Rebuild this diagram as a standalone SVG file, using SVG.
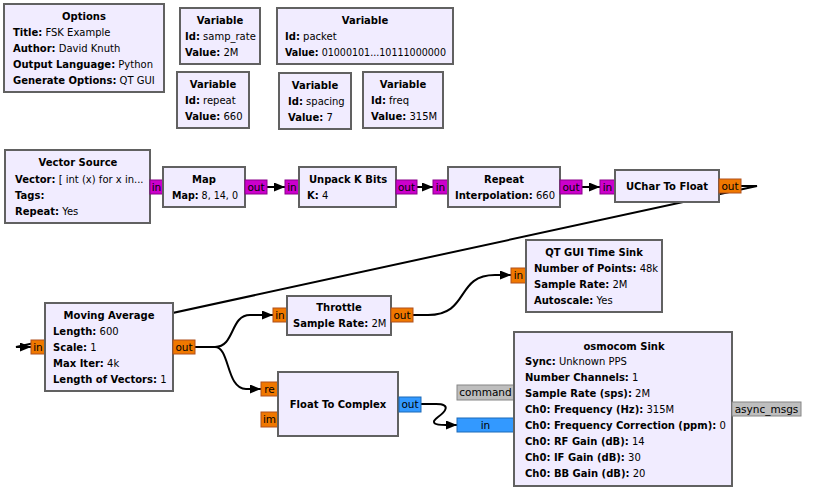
<svg xmlns="http://www.w3.org/2000/svg" width="838" height="500" viewBox="0 0 838 500">
<style>
.blk{fill:#F1ECFF;stroke:#616161;stroke-width:2}
text{font-family:"DejaVu Sans","Liberation Sans",sans-serif;font-size:10px;fill:#000}
.t{font-weight:bold;text-anchor:middle}
.b{font-weight:bold}
.pl{font-size:10.5px;text-anchor:middle}
.pb{fill:#CC00CC;stroke:#8A008A;stroke-width:1}
.pf{fill:#F07800;stroke:#B0501C;stroke-width:1}
.pc{fill:#3399FF;stroke:#1C6AB8;stroke-width:1}
.pm{fill:#BEBEBE;stroke:#868686;stroke-width:1}
.c{fill:none;stroke:#000;stroke-width:2;marker-end:url(#ah)}
</style>
<defs>
<marker id="ah" markerUnits="userSpaceOnUse" markerWidth="12" markerHeight="10" refX="11" refY="4.5" orient="auto">
<path d="M0,0 L11,4.5 L0,9 Z" fill="#000"/>
</marker>
</defs>
<rect width="838" height="500" fill="#fff"/>
<g id="connectors">
<path class="c" d="M267,187 L285,187"/>
<path class="c" d="M417,187 L433,187"/>
<path class="c" d="M582,187 L600,187"/>
<path class="c" d="M741,186 L757,186 L16,347 L31,347"/>
<path class="c" d="M195,347 L215,347 C235,347 230,315 250,315 L273,315"/>
<path class="c" d="M195,347 L215,347 C230,347 226,389 246,389 L261,389"/>
<path class="c" d="M413,315 L428,315 C470,315 455,275 495,275 L511,275"/>
<path class="c" d="M421,404 L436,404 C452,404 445,412 438,417 C430,423 434,425 446,425 L457,425"/>
</g>
<g id="options">
<rect class="blk" x="4" y="4" width="160" height="88"/>
<text class="t" x="84" y="20">Options</text>
<text x="13" y="36"><tspan class="b">Title:</tspan> FSK Example</text>
<text x="13" y="52"><tspan class="b">Author:</tspan> David Knuth</text>
<text x="13" y="68"><tspan class="b">Output Language:</tspan> Python</text>
<text x="13" y="84"><tspan class="b">Generate Options:</tspan> QT GUI</text>
</g>
<g id="var_samp_rate">
<rect class="blk" x="180" y="8" width="80" height="56"/>
<text class="t" x="220" y="24">Variable</text>
<text x="185" y="40"><tspan class="b">Id:</tspan> samp_rate</text>
<text x="185" y="56"><tspan class="b">Value:</tspan> 2M</text>
</g>
<g id="var_packet">
<rect class="blk" x="277" y="8" width="176" height="56"/>
<text class="t" x="365" y="24">Variable</text>
<text x="285" y="40"><tspan class="b">Id:</tspan> packet</text>
<text x="285" y="56" textLength="161" lengthAdjust="spacingAndGlyphs"><tspan class="b">Value:</tspan> 01000101...10111000000</text>
</g>
<g id="var_repeat">
<rect class="blk" x="177" y="72" width="72" height="56"/>
<text class="t" x="213" y="88">Variable</text>
<text x="185" y="104"><tspan class="b">Id:</tspan> repeat</text>
<text x="185" y="120"><tspan class="b">Value:</tspan> 660</text>
</g>
<g id="var_spacing">
<rect class="blk" x="279" y="73" width="72" height="56"/>
<text class="t" x="315" y="89">Variable</text>
<text x="288" y="105"><tspan class="b">Id:</tspan> spacing</text>
<text x="288" y="121"><tspan class="b">Value:</tspan> 7</text>
</g>
<g id="var_freq">
<rect class="blk" x="363" y="72" width="80" height="56"/>
<text class="t" x="403" y="88">Variable</text>
<text x="371" y="104"><tspan class="b">Id:</tspan> freq</text>
<text x="371" y="120"><tspan class="b">Value:</tspan> 315M</text>
</g>
<g id="vector_source">
<rect class="blk" x="5" y="150" width="145" height="73"/>
<text class="t" x="78" y="166">Vector Source</text>
<text x="15" y="183"><tspan class="b">Vector:</tspan> [ int (x) for x in...</text>
<text x="15" y="199"><tspan class="b">Tags:</tspan></text>
<text x="15" y="215"><tspan class="b">Repeat:</tspan> Yes</text>
</g>
<g id="map">
<rect class="pb" x="150" y="180" width="13" height="14"/>
<text class="pl" x="156.5" y="191">in</text>
<rect class="blk" x="163" y="167" width="82" height="40"/>
<rect class="pb" x="245" y="180" width="22" height="14"/>
<text class="pl" x="256" y="191">out</text>
<text class="t" x="204" y="183">Map</text>
<text x="172" y="199" textLength="66" lengthAdjust="spacingAndGlyphs"><tspan class="b">Map:</tspan> 8, 14, 0</text>
</g>
<g id="unpack_k_bits">
<rect class="pb" x="285" y="180" width="14" height="14"/>
<text class="pl" x="292" y="191">in</text>
<rect class="blk" x="299" y="167" width="97" height="40"/>
<rect class="pb" x="396" y="180" width="21" height="14"/>
<text class="pl" x="406.5" y="191">out</text>
<text class="t" x="348" y="183">Unpack K Bits</text>
<text x="307" y="199"><tspan class="b">K:</tspan> 4</text>
</g>
<g id="repeat">
<rect class="pb" x="433" y="180" width="15" height="14"/>
<text class="pl" x="440.5" y="191">in</text>
<rect class="blk" x="448" y="167" width="112" height="40"/>
<rect class="pb" x="560" y="180" width="22" height="14"/>
<text class="pl" x="571" y="191">out</text>
<text class="t" x="504" y="183">Repeat</text>
<text x="455" y="199"><tspan class="b">Interpolation:</tspan> 660</text>
</g>
<g id="uchar_to_float">
<rect class="pb" x="600" y="180" width="15" height="14"/>
<text class="pl" x="607.5" y="191">in</text>
<rect class="blk" x="615" y="170" width="104" height="32"/>
<rect class="pf" x="719" y="179" width="22" height="14"/>
<text class="pl" x="730" y="190">out</text>
<text class="t" x="667" y="190">UChar To Float</text>
</g>
<g id="qt_gui_time_sink">
<rect class="pf" x="511" y="268" width="15" height="15"/>
<text class="pl" x="518.5" y="279">in</text>
<rect class="blk" x="526" y="240" width="136" height="72"/>
<text class="t" x="594" y="256">QT GUI Time Sink</text>
<text x="534" y="272"><tspan class="b">Number of Points:</tspan> 48k</text>
<text x="534" y="288"><tspan class="b">Sample Rate:</tspan> 2M</text>
<text x="534" y="304"><tspan class="b">Autoscale:</tspan> Yes</text>
</g>
<g id="moving_average">
<rect class="pf" x="31" y="340" width="14" height="14"/>
<text class="pl" x="38" y="351">in</text>
<rect class="blk" x="45" y="303" width="128" height="88"/>
<rect class="pf" x="173" y="340" width="22" height="14"/>
<text class="pl" x="184" y="351">out</text>
<text class="t" x="109" y="319">Moving Average</text>
<text x="53" y="335"><tspan class="b">Length:</tspan> 600</text>
<text x="53" y="351"><tspan class="b">Scale:</tspan> 1</text>
<text x="53" y="367"><tspan class="b">Max Iter:</tspan> 4k</text>
<text x="53" y="383"><tspan class="b">Length of Vectors:</tspan> 1</text>
</g>
<g id="throttle">
<rect class="pf" x="273" y="308" width="14" height="14"/>
<text class="pl" x="280" y="319">in</text>
<rect class="blk" x="287" y="296" width="104" height="39"/>
<rect class="pf" x="391" y="308" width="22" height="14"/>
<text class="pl" x="402" y="319">out</text>
<text class="t" x="339" y="311">Throttle</text>
<text x="293" y="327"><tspan class="b">Sample Rate:</tspan> 2M</text>
</g>
<g id="float_to_complex">
<rect class="pf" x="261" y="382" width="17" height="14"/>
<text class="pl" x="269.5" y="393">re</text>
<rect class="pf" x="261" y="412" width="17" height="15"/>
<text class="pl" x="269.5" y="423">im</text>
<rect class="blk" x="278" y="372" width="120" height="64"/>
<rect class="pc" x="399" y="397" width="22" height="15"/>
<text class="pl" x="410" y="408">out</text>
<text class="t" x="338" y="408">Float To Complex</text>
</g>
<g id="osmocom_sink">
<rect class="pm" x="457" y="385" width="57" height="15"/>
<text class="pl" x="485.5" y="396">command</text>
<rect class="pc" x="457" y="418" width="57" height="14"/>
<text class="pl" x="485.5" y="429">in</text>
<rect class="blk" x="514" y="332" width="218" height="154"/>
<rect class="pm" x="732" y="402" width="69" height="14"/>
<text class="pl" x="766.5" y="413">async_msgs</text>
<text class="t" x="624" y="350">osmocom Sink</text>
<text x="525" y="365"><tspan class="b">Sync:</tspan> Unknown PPS</text>
<text x="525" y="381"><tspan class="b">Number Channels:</tspan> 1</text>
<text x="525" y="397"><tspan class="b">Sample Rate (sps):</tspan> 2M</text>
<text x="525" y="413"><tspan class="b">Ch0: Frequency (Hz):</tspan> 315M</text>
<text x="525" y="429"><tspan class="b">Ch0: Frequency Correction (ppm):</tspan> 0</text>
<text x="525" y="445"><tspan class="b">Ch0: RF Gain (dB):</tspan> 14</text>
<text x="525" y="461"><tspan class="b">Ch0: IF Gain (dB):</tspan> 30</text>
<text x="525" y="477"><tspan class="b">Ch0: BB Gain (dB):</tspan> 20</text>
</g>
</svg>
